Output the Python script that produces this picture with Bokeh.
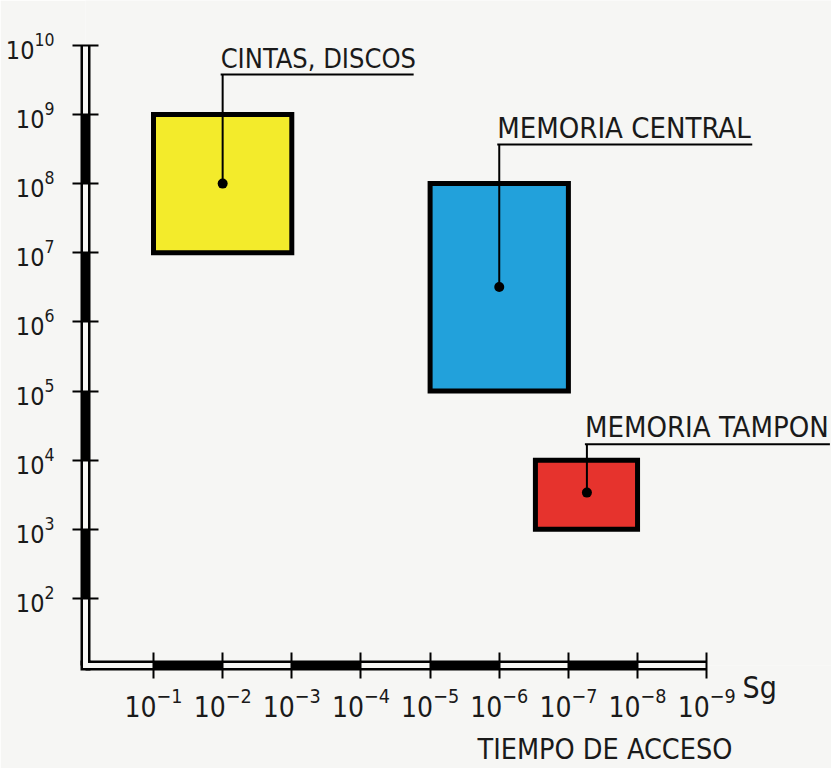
from bokeh.plotting import figure
from bokeh.models import Range1d, FixedTicker
from bokeh.core.properties import value
from bokeh.embed import file_html
from bokeh.resources import INLINE

# ---------------- data ----------------
categories = ["CINTAS, DISCOS", "MEMORIA CENTRAL", "MEMORIA TAMPON"]
t_slow = [1e-1, 1e-5, 3e-7]        # tiempo de acceso (s), borde lento
t_fast = [1e-3, 1e-7, 1e-8]        # tiempo de acceso (s), borde rapido
cap_low = [1e7, 1e5, 1e3]          # capacidad minima
cap_high = [1e9, 1e8, 1e4]         # capacidad maxima
t_typ = [1e-2, 1e-6, 5.4e-8]       # punto tipico
cap_typ = [1e8, 3.2e6, 3.4e3]
colors = ["#F3EB2B", "#22A1DB", "#E6332D"]
x_ticks = [10.0 ** -k for k in range(1, 10)]
y_ticks = [10.0 ** k for k in range(2, 11)]

# ---------------- layout ----------------
FONT = "DejaVu Sans Condensed, Liberation Sans, sans-serif"
INK = "#1a1a1a"
BG = "#F6F6F4"
W, H = 831, 768
ML, MB = 85, 103
DEC = 69.15                       # px per decade
fw, fh = W - ML, H - MB
e0 = 1 - (153 - ML) / DEC         # x exponent (negated) at frame left
L0 = 2 - ((H - MB) - 598) / DEC   # y exponent at frame bottom
x_start, x_end = 10 ** (-e0), 10 ** (-(e0 + fw / DEC))
y_start, y_end = 10 ** L0, 10 ** (L0 + fh / DEC)


def px(n):
    return 10 ** (n / DEC)


p = figure(width=W, height=H, x_axis_type="log", y_axis_type="log",
           x_range=Range1d(x_start, x_end), y_range=Range1d(y_start, y_end),
           output_backend="svg", toolbar_location=None,
           min_border_left=ML, min_border_bottom=MB, min_border_top=0, min_border_right=0,
           background_fill_color=BG, border_fill_color=BG, outline_line_color=None)
p.grid.visible = False

# ---- axes bars (double line, alternating filled decades) ----
yb = list(reversed(y_ticks)) + [y_start]
xb = [x_start] + x_ticks
p.segment(x0=[x_start], y0=[y_start], x1=[x_start], y1=[y_ticks[-1]],
          line_width=10, line_color="black", level="guide")
p.segment(x0=[x_start], y0=[y_start], x1=[x_ticks[-1]], y1=[y_start],
          line_width=10, line_color="black", level="guide")
p.scatter([x_start], [y_start], marker="square", size=10, fill_color="black",
          line_color=None, level="guide")
hv = [(yb[i], yb[i + 1]) for i in range(0, len(yb) - 1, 2)]
hh = [(xb[i], xb[i + 1]) for i in range(0, len(xb) - 1, 2)]
p.segment(x0=[x_start] * len(hv), y0=[a for a, b in hv], x1=[x_start] * len(hv),
          y1=[b for a, b in hv], line_width=5, line_color=BG, level="guide")
p.segment(x0=[a for a, b in hh], y0=[y_start] * len(hh), x1=[b for a, b in hh],
          y1=[y_start] * len(hh), line_width=5, line_color=BG, level="guide")
p.scatter([x_start], [y_start], marker="square", size=5, fill_color=BG,
          line_color=None, level="guide")

for ax, ticks, fs, so in ((p.yaxis, y_ticks, "25px", 18), (p.xaxis, x_ticks, "28px", 8)):
    ax.ticker = FixedTicker(ticks=ticks)
    ax.axis_line_color = None
    ax.major_tick_in = 13
    ax.major_tick_out = 13
    ax.major_tick_line_width = 2
    ax.major_tick_line_color = "black"
    ax.minor_tick_line_color = None
    ax.major_label_text_font = FONT
    ax.major_label_text_font_size = fs
    ax.major_label_text_color = INK
    ax.major_label_standoff = so
    ax.level = "overlay"

# ---- boxes ----
p.quad(left=t_slow, right=t_fast, bottom=cap_low, top=cap_high,
       fill_color=colors, line_color="black", line_width=5, line_join="miter")

# ---- leaders, labels ----
lift = [40, 39, 16]                      # px above box top for label underline
under_len = [193, 255, 245]              # px
label_size = ["27px", "29px", "29px"]
label_y = [c * px(l) for c, l in zip(cap_high, lift)]
text_x = [t * px(2) for t in t_typ]
p.segment(x0=t_typ, y0=label_y, x1=t_typ, y1=cap_typ, line_width=2, line_color="black")
p.segment(x0=text_x, y0=label_y, x1=[x / px(l) for x, l in zip(text_x, under_len)],
          y1=label_y, line_width=2, line_color="black")
p.scatter(t_typ, cap_typ, size=10, fill_color="black", line_color=None)
for x, y, t, s in zip(text_x, label_y, categories, label_size):
    p.text(x=[x], y=[y], text=[t], y_offset=0, text_font=value(FONT), text_font_size=s,
           text_baseline="bottom", text_align="left", text_color=INK, level="overlay")

# axis title and unit
p.text(x=[10 ** -(1 + (477 - 153) / DEC)], y=[10 ** (L0 - (765 - (H - MB)) / DEC)],
       text=["TIEMPO DE ACCESO"], text_font=value(FONT), text_font_size="28.5px",
       text_baseline="bottom", text_align="left", text_color=INK, level="overlay")
p.text(x=[10 ** -(1 + (742 - 153) / DEC)], y=[10 ** (L0 - (704 - (H - MB)) / DEC)],
       text=["Sg"], text_font=value(FONT), text_font_size="30px",
       text_baseline="bottom", text_align="left", text_color=INK, level="overlay")

open("out.html", "w").write(file_html(p, INLINE))
